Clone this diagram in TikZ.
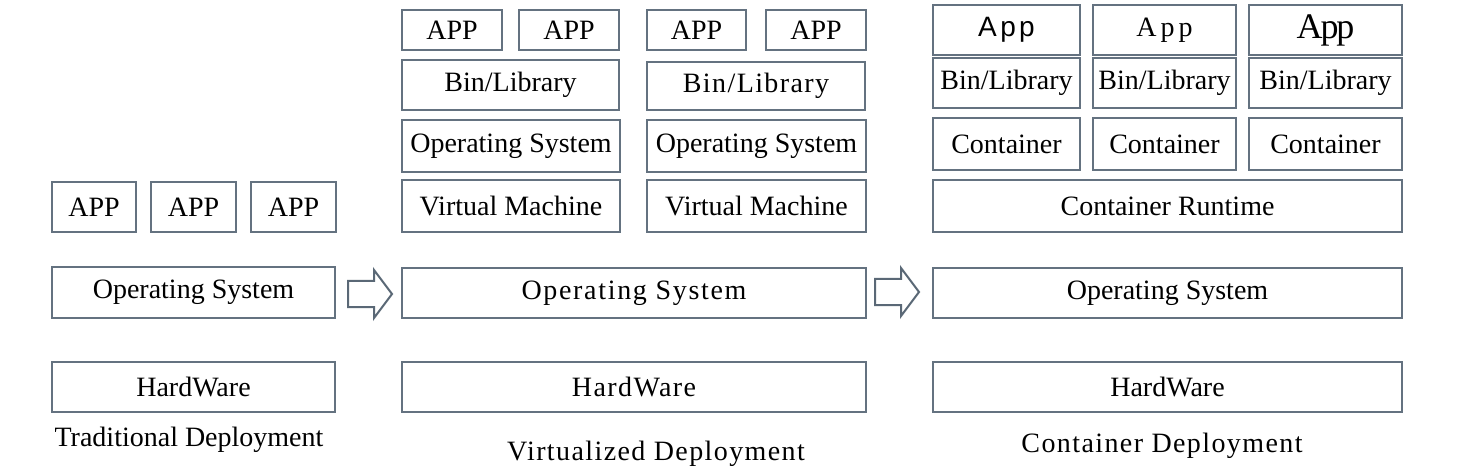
\documentclass[tikz,border=0pt]{standalone}
\usepackage{fontspec}
\setmainfont{Liberation Serif}
\newfontfamily\sansapp{Liberation Sans}
\definecolor{bxc}{RGB}{100,114,128}
\definecolor{arc}{RGB}{90,104,118}
\tikzset{
  box/.style={draw=bxc, line width=1pt, inner sep=0pt, outer sep=0pt, font=\fontsize{14}{16}\selectfont, text=black},
  lbl/.style={inner sep=0pt, font=\fontsize{14}{16}\selectfont, text=black},
  blockarrow/.style={draw=arc, line width=1pt, fill=white, line join=miter}
}
\newcommand\bx[6]{\node[box, minimum width={(#4-#2)*0.5pt}, minimum height={(#5-#3)*0.5pt}] (#1) at ({(#2+#4)/2},{(#3+#5)/2}) {#6};}
\newcommand\lsp[2]{{\addfontfeature{LetterSpace=#1}#2}}
\begin{document}
\begin{tikzpicture}[x=0.5pt,y=-0.5pt]
\useasboundingbox[fill=white] (0,0) rectangle (1472,470);
% Traditional
\bx{ta1}{52}{182}{136}{232}{APP}
\bx{ta2}{151}{182}{236}{232}{APP}
\bx{ta3}{251}{182}{336}{232}{APP}
\bx{tos}{52}{267}{335}{318}{Operating System}
\bx{thw}{52}{362}{335}{412}{HardWare}
\node[lbl] (tl) at (189,440) {Traditional Deployment};
% Arrow 1
\draw[blockarrow] (348,281)--(374,281)--(374,270)--(392,294)--(374,318)--(374,307)--(348,307)--cycle;
% Virtualized
\bx{va1}{402}{10}{502}{50}{APP}
\bx{va2}{519}{10}{619}{50}{APP}
\bx{va3}{647}{10}{746}{50}{APP}
\bx{va4}{766}{10}{866}{50}{APP}
\bx{vb1}{402}{60}{619}{110}{Bin/Library}
\bx{vb2}{647}{62}{865}{110}{\lsp{5}{Bin/Library}}
\bx{vo1}{402}{120}{620}{172}{Operating System}
\bx{vo2}{647}{120}{866}{172}{Operating System}
\bx{vm1}{402}{180}{620}{232}{Virtual Machine}
\bx{vm2}{647}{180}{866}{232}{Virtual Machine}
\bx{vos}{402}{268}{866}{318}{\lsp{6}{Operating System}}
\bx{vhw}{402}{362}{866}{412}{\lsp{5}{HardWare}}
\node[lbl] (vl) at (656,454) {\lsp{5}{Virtualized Deployment}};
% Arrow 2
\draw[blockarrow] (875,279)--(901,279)--(901,268)--(919,292)--(901,316)--(901,305)--(875,305)--cycle;
% Container
\bx{ca1}{933}{5}{1080}{55}{{\sansapp\addfontfeature{LetterSpace=12}App}}
\bx{ca2}{1093}{5}{1236}{55}{\lsp{14}{App}}
\bx{ca3}{1249}{5}{1402}{55}{{\fontsize{18}{20}\selectfont\addfontfeature{LetterSpace=-6}App}}
\bx{cb1}{933}{58}{1080}{108}{Bin/Library}
\bx{cb2}{1093}{58}{1236}{108}{Bin/Library}
\bx{cb3}{1249}{58}{1402}{108}{Bin/Library}
\bx{cc1}{933}{118}{1080}{170}{Container}
\bx{cc2}{1093}{118}{1236}{170}{Container}
\bx{cc3}{1249}{118}{1402}{170}{Container}
\bx{crt}{933}{180}{1402}{232}{Container Runtime}
\bx{cos}{933}{268}{1402}{318}{Operating System}
\bx{chw}{933}{362}{1402}{412}{HardWare}
\node[lbl] (cl) at (1162,446) {\lsp{5}{Container Deployment}};
\end{tikzpicture}
\end{document}
